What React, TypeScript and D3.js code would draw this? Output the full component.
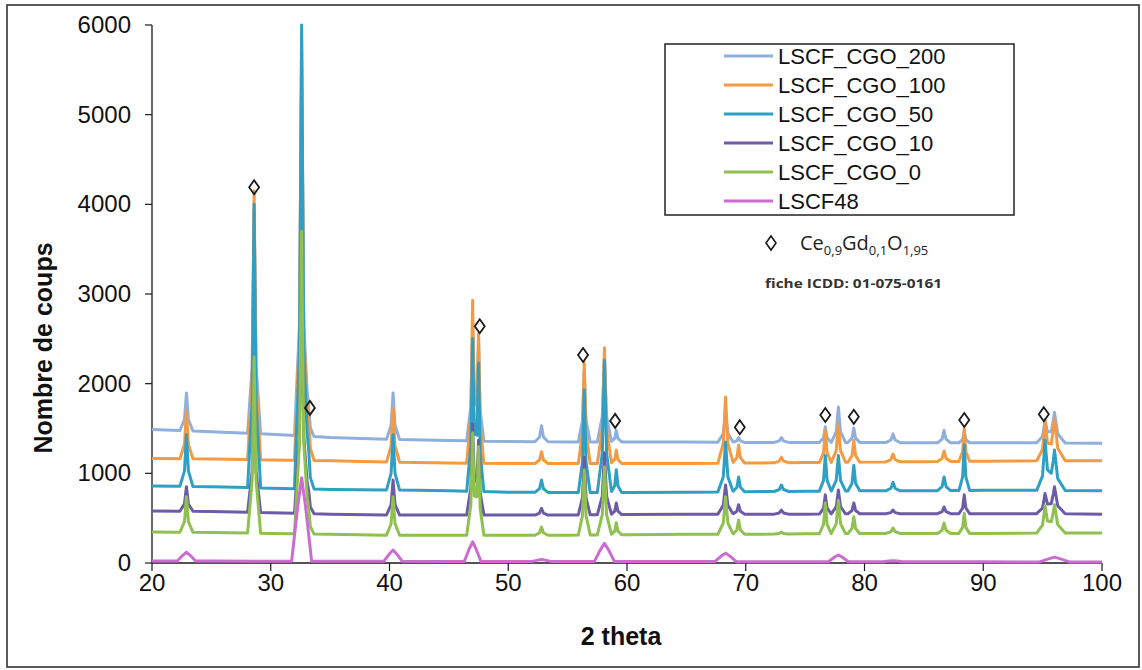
import React from "react";
import * as d3 from "d3";

const SERIES_NAMES = ["LSCF_CGO_200", "LSCF_CGO_100", "LSCF_CGO_50", "LSCF_CGO_10", "LSCF_CGO_0", "LSCF48"];
const SERIES_COLORS = ["#8fb0dc", "#f39a45", "#2f9fc3", "#6c5ca8", "#8fc050", "#cc6cd0"];

const X_TICKS = [20, 30, 40, 50, 60, 70, 80, 90, 100];
const Y_TICKS = [0, 1000, 2000, 3000, 4000, 5000, 6000];

// Baseline (background) levels read at these 2-theta positions
const BASE_X = [20, 25, 30, 35, 40, 45, 50, 55, 60, 65, 70, 75, 80, 85, 90, 95, 100];
const BASE_200 = [1490, 1465, 1435, 1400, 1380, 1365, 1355, 1350, 1350, 1350, 1345, 1345, 1345, 1340, 1340, 1340, 1335];
const BASE_100 = [1165, 1160, 1150, 1140, 1125, 1115, 1110, 1110, 1110, 1110, 1115, 1120, 1125, 1130, 1135, 1140, 1140];
const BASE_50 = [860, 850, 835, 820, 815, 805, 790, 785, 785, 790, 795, 800, 805, 805, 810, 810, 805];
const BASE_10 = [580, 575, 560, 545, 535, 535, 535, 535, 540, 545, 545, 545, 550, 550, 550, 550, 545];
const BASE_0 = [345, 340, 330, 320, 310, 310, 310, 310, 315, 320, 320, 325, 330, 330, 330, 335, 335];
const BASE_48 = [22, 22, 20, 20, 20, 18, 18, 18, 17, 16, 15, 15, 14, 14, 13, 12, 12];

// Peak positions (2 theta) and half widths at base (degrees)
const PEAK_POS = [22.9, 28.6, 32.6, 33.2, 40.3, 47.0, 47.5, 52.8, 56.4, 58.1, 59.1, 68.3, 69.4, 73.0, 76.7, 77.8, 79.1, 82.4, 86.7, 88.4, 95.2, 96.0];
const PEAK_HW = [0.55, 0.55, 0.6, 0.45, 0.55, 0.5, 0.45, 0.55, 0.5, 0.6, 0.45, 0.65, 0.5, 0.6, 0.5, 0.6, 0.5, 0.6, 0.55, 0.45, 0.7, 0.9];

// Peak top counts per series (0 = no peak)
const PEAK_200 = [1895, 3950, 5600, 1730, 1895, 2650, 2500, 1530, 2150, 2300, 1480, 1670, 1400, 1400, 1520, 1740, 1505, 1440, 1480, 1470, 1580, 1680];
const PEAK_100 = [1700, 4150, 5850, 1600, 1730, 2930, 2560, 1240, 2240, 2400, 1260, 1850, 1315, 1180, 1480, 1560, 1370, 1215, 1250, 1500, 1560, 1615];
const PEAK_50 = [1430, 4000, 6000, 1250, 1430, 2500, 2230, 925, 1930, 2260, 1040, 1350, 960, 870, 1200, 1200, 1090, 900, 960, 1315, 1350, 1260];
const PEAK_10 = [850, 2100, 3400, 800, 925, 1550, 1370, 610, 1180, 1230, 670, 870, 650, 590, 760, 815, 670, 590, 625, 760, 760, 850];
const PEAK_0 = [740, 2300, 3700, 600, 740, 1450, 1300, 400, 1040, 1070, 450, 740, 480, 345, 670, 700, 515, 390, 445, 555, 625, 650];
const PEAK_48 = [120, 0, 950, 0, 145, 235, 0, 40, 0, 220, 0, 110, 0, 0, 0, 90, 0, 25, 0, 0, 0, 65];

// CGO reflection markers (2 theta, counts)
const MARK_X = [28.6, 33.3, 47.6, 56.3, 59.0, 69.5, 76.7, 79.1, 88.4, 95.1];
const MARK_Y = [4190, 1730, 2640, 2320, 1585, 1515, 1650, 1630, 1595, 1660];

const BASES = [BASE_200, BASE_100, BASE_50, BASE_10, BASE_0, BASE_48];
const PEAKS = [PEAK_200, PEAK_100, PEAK_50, PEAK_10, PEAK_0, PEAK_48];

const W = 1142;
const H = 670;
const x = d3.scaleLinear().domain([20, 100]).range([152, 1102]);
const y = d3.scaleLinear().domain([0, 6000]).range([563, 25]);

function buildSeries(si: number): [number, number][] {
  const base = BASES[si];
  const tops = PEAKS[si];
  const broad = si === 5;
  const baseAt = d3.scaleLinear().domain(BASE_X).range(base);
  const sh = broad ? 0.4 : 0.3;
  const shv = broad ? 0.65 : 0.3;
  const prof = (t: number) => {
    const a = Math.abs(t);
    if (a >= 1) return 0;
    if (a <= sh) return 1 - (a / sh) * (1 - shv);
    return shv * (1 - a) / (1 - sh);
  };
  const peaks = PEAK_POS.map((p, i) => ({
    p,
    hw: PEAK_HW[i] * (broad ? 1.4 : 1),
    amp: tops[i] > 0 ? tops[i] - baseAt(p) : 0,
  })).filter((d) => d.amp > 0);
  const xs = new Set<number>(BASE_X);
  peaks.forEach((d) => {
    [-1, -sh, 0, sh, 1].forEach((t) => xs.add(+(d.p + t * d.hw).toFixed(4)));
  });
  const sorted = Array.from(xs).filter((v) => v >= 20 && v <= 100).sort((a, b) => a - b);
  return sorted.map((v) => {
    let val = baseAt(v);
    peaks.forEach((d) => {
      val += d.amp * prof((v - d.p) / d.hw);
    });
    return [v, val];
  });
}

const diamondPath = (cx: number, cy: number) =>
  `M${cx},${cy - 7} L${cx + 5},${cy} L${cx},${cy + 7} L${cx - 5},${cy} Z`;

export default function App() {
  const line = d3
    .line<[number, number]>()
    .x((d) => x(d[0]))
    .y((d) => y(d[1]));
  const font = "'Liberation Sans', Arial, sans-serif";
  return (
    <svg width={W} height={H} style={{ position: "absolute", left: 0, top: 0, background: "#fff" }} fontFamily={font}>
      <rect x={0} y={0} width={W} height={H} fill="#fff" />
      <rect x={7} y={5} width={1132} height={662} fill="none" stroke="#333" strokeWidth={1.6} />

      {/* axes */}
      <line x1={x(20)} x2={x(100)} y1={y(0)} y2={y(0)} stroke="#1a1a1a" strokeWidth={1.3} />
      <line x1={x(20)} x2={x(20)} y1={y(0)} y2={y(6000)} stroke="#1a1a1a" strokeWidth={1.3} />
      {Y_TICKS.map((t) => (
        <g key={"y" + t}>
          <line x1={x(20) - 7} x2={x(20)} y1={y(t)} y2={y(t)} stroke="#1a1a1a" strokeWidth={1.2} />
          <text x={131} y={y(t) + 8} textAnchor="end" fontSize={24} fill="#111">
            {t}
          </text>
        </g>
      ))}
      {X_TICKS.map((t) => (
        <g key={"x" + t}>
          <line x1={x(t)} x2={x(t)} y1={y(0)} y2={y(0) + 8} stroke="#1a1a1a" strokeWidth={1.2} />
          <text x={x(t)} y={591} textAnchor="middle" fontSize={24} fill="#111">
            {t}
          </text>
        </g>
      ))}

      {/* series */}
      {SERIES_NAMES.map((n, i) => (
        <path key={n} d={line(buildSeries(i)) || ""} fill="none" stroke={SERIES_COLORS[i]} strokeWidth={3} strokeLinejoin="round" />
      ))}

      {/* markers */}
      {MARK_X.map((mx, i) => (
        <path key={"m" + i} d={diamondPath(x(mx), y(MARK_Y[i]))} fill="none" stroke="#1a1a1a" strokeWidth={1.8} />
      ))}

      {/* axis titles */}
      <text transform="translate(52,348) rotate(-90)" textAnchor="middle" fontSize={25} fontWeight="bold" fill="#111">
        Nombre de coups
      </text>
      <text x={621} y={645} textAnchor="middle" fontSize={25} fontWeight="bold" fill="#111">
        2 theta
      </text>

      {/* legend */}
      <rect x={665} y={44} width={349} height={171} fill="#fff" stroke="#222" strokeWidth={1.5} />
      {SERIES_NAMES.map((n, i) => (
        <g key={"l" + n}>
          <line x1={724} x2={773} y1={56 + i * 29} y2={56 + i * 29} stroke={SERIES_COLORS[i]} strokeWidth={3} />
          <text x={778} y={56 + i * 29 + 8} fontSize={22} fill="#111">
            {n}
          </text>
        </g>
      ))}
      <path d={diamondPath(771, 243)} fill="none" stroke="#1a1a1a" strokeWidth={1.6} />
      <text x={800} y={250} fontSize={20} fill="#222" fontFamily="'Open Sans', 'Noto Sans', sans-serif">
        Ce
        <tspan fontSize={13} dy={5}>0,9</tspan>
        <tspan dy={-5}>Gd</tspan>
        <tspan fontSize={13} dy={5}>0,1</tspan>
        <tspan dy={-5}>O</tspan>
        <tspan fontSize={13} dy={5}>1,95</tspan>
      </text>
      <text x={765} y={288} fontSize={13} fontWeight="bold" fill="#333" fontFamily="'Open Sans', 'Noto Sans', sans-serif" textLength={177} lengthAdjust="spacingAndGlyphs">
        fiche ICDD: 01-075-0161
      </text>
    </svg>
  );
}
